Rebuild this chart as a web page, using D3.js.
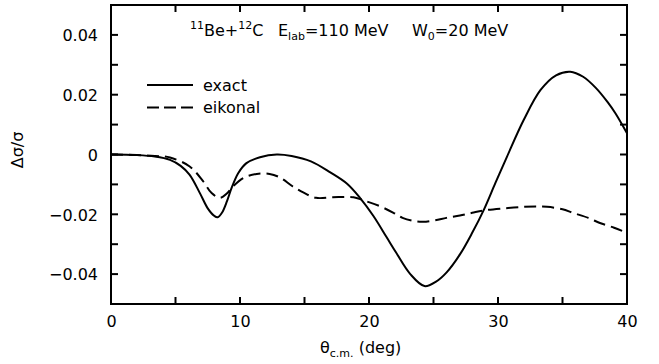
<!DOCTYPE html>
<html>
<head>
<meta charset="utf-8">
<script src="https://cdn.jsdelivr.net/npm/d3@7"></script>
<style>
  body { margin: 0; background: #fff; }
  svg text { font-family: "DejaVu Sans", Arial, sans-serif; fill: #000; }
</style>
</head>
<body>
<div id="display"></div>
<script>
var width = 659, height = 364;

// curves: [theta (deg), delta sigma / sigma]
var exactData = [
  [0, 0], [2, -0.0002], [3.4, -0.0007], [4.57, -0.0018], [5.4, -0.0038], [6.1, -0.0068],
  [6.9, -0.0130], [7.5, -0.0180], [8.0, -0.0205], [8.27, -0.0210], [8.6, -0.0195],
  [9.0, -0.0155], [9.35, -0.0112], [9.87, -0.0062], [10.5, -0.0029], [11.55, -0.0009],
  [12.85, 0.0000], [14.0, -0.0005], [15.5, -0.0023], [17.0, -0.0060], [18.3, -0.0098],
  [19.3, -0.0145], [20.33, -0.0205], [21.37, -0.0277], [22.1, -0.0328], [23.2, -0.0400],
  [24.3, -0.0440], [25.2, -0.0425], [26.0, -0.0395], [27.05, -0.0334], [28.0, -0.0262],
  [28.9, -0.0185], [29.8, -0.0095], [30.7, -0.0007], [32.0, 0.0116], [33.3, 0.0216],
  [34.5, 0.0265], [35.6, 0.0277], [36.6, 0.0260], [37.6, 0.0222], [38.5, 0.0175],
  [39.1, 0.0138], [40.0, 0.0071]
];

var eikonalData = [
  [0, 0], [2, -0.0002], [3.4, -0.0005], [4.57, -0.0010], [6.1, -0.0040], [7.15, -0.0090],
  [7.8, -0.0129], [8.45, -0.0145], [9.0, -0.0130], [9.35, -0.0112], [10.25, -0.0079],
  [11.3, -0.0065], [12.3, -0.0065], [13.1, -0.0077], [14.1, -0.0107], [14.9, -0.0127],
  [15.9, -0.0145], [17.2, -0.0143], [18.8, -0.0143], [19.55, -0.0153], [20.85, -0.0173],
  [21.9, -0.0195], [22.6, -0.0212], [23.4, -0.0222], [24.2, -0.0225], [25.1, -0.0220],
  [26.0, -0.0212], [27.05, -0.0204], [28.0, -0.0195], [28.9, -0.0187], [30.5, -0.0180],
  [32.0, -0.0175], [33.0, -0.0174], [33.8, -0.0175], [35.0, -0.0183], [35.8, -0.0195],
  [37.0, -0.0212], [37.9, -0.0229], [39.0, -0.0245], [40.0, -0.0262]
];

var xTicks = [0, 10, 20, 30, 40];
var xMinor = [5, 15, 25, 35];
var yTicks = [-0.04, -0.02, 0, 0.02, 0.04];
var yMinor = [-0.03, -0.01, 0.01, 0.03];
var yTickLabels = ["\u22120.04", "\u22120.02", "0", "0.02", "0.04"];

var margin = { left: 111, right: 32, top: 5, bottom: 60 };

var svg = d3.select("#display")
  .append("svg")
  .attr("width", width)
  .attr("height", height);

svg.append("rect").attr("width", width).attr("height", height).attr("fill", "#fff");

var x = d3.scaleLinear().domain([0, 40]).range([margin.left, width - margin.right]);
var y = d3.scaleLinear().domain([-0.05, 0.05]).range([height - margin.bottom, margin.top]);

var bottomY = height - margin.bottom, topY = margin.top;
var leftX = margin.left, rightX = width - margin.right;

// tick labels from d3 axes (tick lines drawn separately below)
var gb = svg.append("g").attr("transform", "translate(0," + bottomY + ")")
  .call(d3.axisBottom(x).tickValues(xTicks).tickSize(0).tickPadding(11).tickFormat(d3.format("d")));
gb.select(".domain").remove();
gb.selectAll("text").attr("font-size", 16).attr("dy", "0.73em");

var gl = svg.append("g").attr("transform", "translate(" + leftX + ",0)")
  .call(d3.axisLeft(y).tickValues(yTicks).tickSize(0).tickPadding(13)
    .tickFormat(function (d, i) { return yTickLabels[i]; }));
gl.select(".domain").remove();
gl.selectAll("text").attr("font-size", 16).attr("dy", "0.36em");

// inward ticks on all four sides
var allX = xTicks.concat(xMinor), allY = yTicks.concat(yMinor);
var ticks = svg.append("g").attr("stroke", "#000").attr("stroke-width", 2);
ticks.selectAll(".xb").data(allX).enter().append("line")
  .attr("x1", d => x(d)).attr("x2", d => x(d))
  .attr("y1", bottomY).attr("y2", bottomY - 7);
ticks.selectAll(".xt").data(allX).enter().append("line")
  .attr("x1", d => x(d)).attr("x2", d => x(d))
  .attr("y1", topY).attr("y2", topY + 7);
ticks.selectAll(".yl").data(allY).enter().append("line")
  .attr("y1", d => y(d)).attr("y2", d => y(d))
  .attr("x1", leftX).attr("x2", leftX + 7);
ticks.selectAll(".yr").data(allY).enter().append("line")
  .attr("y1", d => y(d)).attr("y2", d => y(d))
  .attr("x1", rightX).attr("x2", rightX - 7);

// frame
svg.append("rect")
  .attr("x", leftX).attr("y", topY)
  .attr("width", rightX - leftX).attr("height", bottomY - topY)
  .attr("fill", "none").attr("stroke", "#000").attr("stroke-width", 2);

var line = d3.line()
  .x(function (d) { return x(d[0]); })
  .y(function (d) { return y(d[1]); })
  .curve(d3.curveCatmullRom.alpha(0.5));

svg.append("path").datum(eikonalData)
  .attr("d", line).attr("fill", "none").attr("stroke", "#000")
  .attr("stroke-width", 2).attr("stroke-dasharray", "12,6");

svg.append("path").datum(exactData)
  .attr("d", line).attr("fill", "none").attr("stroke", "#000")
  .attr("stroke-width", 2);

// title
var title = svg.append("text").attr("x", 190).attr("y", 36).attr("font-size", 16);
title.append("tspan").attr("font-size", 11).attr("dy", -7).text("11");
title.append("tspan").attr("dy", 7).text("Be+");
title.append("tspan").attr("font-size", 11).attr("dy", -7).text("12");
title.append("tspan").attr("dy", 7).text("C");
title.append("tspan").attr("x", 278).text("E");
title.append("tspan").attr("font-size", 11).attr("dy", 4).text("lab");
title.append("tspan").attr("dy", -4).text("=110 MeV");
title.append("tspan").attr("x", 412).text("W");
title.append("tspan").attr("font-size", 11).attr("dy", 4).text("0");
title.append("tspan").attr("dy", -4).text("=20 MeV");

// legend
svg.append("line").attr("x1", 147).attr("x2", 193).attr("y1", 85).attr("y2", 85)
  .attr("stroke", "#000").attr("stroke-width", 2);
svg.append("text").attr("x", 203).attr("y", 91).attr("font-size", 16).text("exact");
svg.append("line").attr("x1", 147).attr("x2", 193).attr("y1", 107.5).attr("y2", 107.5)
  .attr("stroke", "#000").attr("stroke-width", 2).attr("stroke-dasharray", "12,5");
svg.append("text").attr("x", 203).attr("y", 113).attr("font-size", 16).text("eikonal");

// axis titles
var xt = svg.append("text").attr("x", 320).attr("y", 353).attr("font-size", 16);
xt.append("tspan").text("\u03b8");
xt.append("tspan").attr("font-size", 11).attr("dy", 4).text("c.m.");
xt.append("tspan").attr("dy", -4).text(" (deg)");

svg.append("text")
  .attr("transform", "translate(23,150) rotate(-90)")
  .attr("text-anchor", "middle").attr("font-size", 16)
  .text("\u0394\u03c3/\u03c3");
</script>
</body>
</html>
